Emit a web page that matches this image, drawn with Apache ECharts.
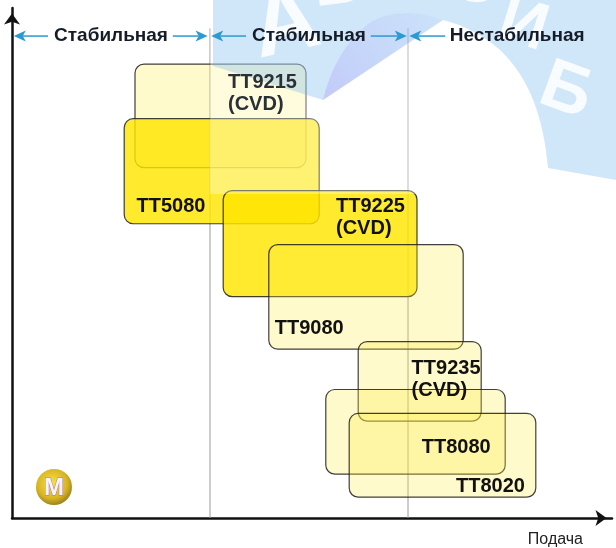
<!DOCTYPE html>
<html>
<head>
<meta charset="utf-8">
<style>
  html, body { margin: 0; padding: 0; background: #fff; }
  #chart { width: 616px; height: 548px; }
</style>
<script src="https://cdn.jsdelivr.net/npm/echarts@6/dist/echarts.min.js"></script>
</head>
<body>
<div id="chart"></div>
<script>
// grade areas: x = feed, y = wear resistance (relative units 0..100)
const grades   = ['TT9215\n(CVD)', 'TT5080', 'TT9225\n(CVD)', 'TT9080', 'TT9235\n(CVD)', 'TT8080', 'TT8020'];
const feedFrom = [20.5, 18.7, 35.2, 42.8, 57.7, 52.3, 56.2];
const feedTo   = [49.0, 51.2, 67.5, 75.2, 78.2, 82.2, 87.3];
const wearHigh = [89.0, 78.3, 64.2, 53.6, 34.6, 25.2, 20.5];
const wearLow  = [68.7, 57.7, 43.4, 33.1, 19.0, 8.6, 4.1];
const strong   = [false, true, true, false, false, false, false];
const labelX   = [36.0, 20.75, 54.0, 43.8, 66.6, 68.3, 74.0];
const labelY   = [87.6, 63.2, 63.2, 39.3, 31.5, 15.9, 8.4];

// zones along the feed axis
const zoneNames   = ['Стабильная', 'Стабильная', 'Нестабильная'];
const zoneLabelX  = [16.5, 49.5, 84.2];
const zoneBorders = [33, 66];
const arrowFrom   = [6.0, 26.8, 39.0, 59.8, 72.2];
const arrowTo     = [0.3, 32.6, 33.2, 65.8, 66.2];
const headerY     = 94.5;
const borderTop   = 96;

const FONT = '"Liberation Sans", Arial, Helvetica, sans-serif';

const chart = echarts.init(document.getElementById('chart'));

function renderGrade(params, api) {
  const tl = api.coord([api.value(0), api.value(2)]);
  const br = api.coord([api.value(1), api.value(3)]);
  return {
    type: 'rect',
    shape: { x: tl[0], y: tl[1], width: br[0] - tl[0], height: br[1] - tl[1], r: 9 },
    style: {
      fill: strong[params.dataIndex] ? 'rgba(255, 229, 0, 0.82)' : 'rgba(255, 236, 70, 0.28)',
      stroke: 'rgba(30, 30, 30, 0.85)',
      lineWidth: 1.2
    }
  };
}

function renderGradeLabel(params, api) {
  const p = api.coord([api.value(0), api.value(1)]);
  return {
    type: 'text',
    x: p[0],
    y: p[1],
    style: {
      text: grades[params.dataIndex],
      fill: params.dataIndex === 0 ? '#2a3038' : '#111',
      fontFamily: FONT,
      fontWeight: 'bold',
      fontSize: 20,
      lineHeight: 22,
      align: 'left',
      verticalAlign: 'top'
    }
  };
}

function renderBorder(params, api) {
  const a = api.coord([api.value(0), 0]);
  const b = api.coord([api.value(0), api.value(1)]);
  return {
    type: 'line',
    shape: { x1: a[0], y1: a[1], x2: b[0], y2: b[1] },
    style: { stroke: '#9a9a9a', lineWidth: 1 }
  };
}

function renderArrow(params, api) {
  const from = api.coord([api.value(0), api.value(2)]);
  const to = api.coord([api.value(1), api.value(2)]);
  const dir = to[0] > from[0] ? 1 : -1;
  const len = 12, half = 5.5, notch = 3;
  const tip = to[0], y = to[1];
  return {
    type: 'group',
    children: [
      {
        type: 'line',
        shape: { x1: from[0], y1: y, x2: tip - dir * (len - notch), y2: y },
        style: { stroke: '#2a9ad0', lineWidth: 1.5 }
      },
      {
        type: 'polygon',
        shape: { points: [[tip, y], [tip - dir * len, y - half], [tip - dir * (len - notch), y], [tip - dir * len, y + half]] },
        style: { fill: '#2a9ad0' }
      }
    ]
  };
}

function renderZoneName(params, api) {
  const p = api.coord([api.value(0), api.value(1)]);
  return {
    type: 'text',
    x: p[0],
    y: p[1],
    style: {
      text: zoneNames[params.dataIndex],
      fill: '#151c28',
      fontFamily: FONT,
      fontWeight: 'bold',
      fontSize: 19,
      align: 'center',
      verticalAlign: 'middle'
    }
  };
}

function wmLetter(ch, x, y, rot, size) {
  return {
    type: 'text', x: x, y: y, rotation: rot,
    style: { text: ch, fill: 'rgba(255,255,255,0.85)', fontFamily: FONT, fontWeight: 'bold', fontSize: size, align: 'center', verticalAlign: 'middle' }
  };
}

// watermark in the upper right (decoration, drawn over the areas)
function renderWatermark() {
  return {
    type: 'group',
    children: [
      { type: 'rect', shape: { x: 210, y: 0, width: 406, height: 194 }, style: { fill: 'rgba(255,255,255,0.33)' } },
      {
        type: 'path',
        shape: { pathData: 'M213,0 L616,0 L616,180 L548,168 C544,120 530,78 500,50 C482,34 462,25 443,20 L323,100 L213,66 Z' },
        style: { fill: 'rgba(100,175,240,0.3)' }
      },
      {
        type: 'path',
        shape: { pathData: 'M323,100 C330,70 345,42 368,24 C390,9 420,11 443,20 Z' },
        style: {
          fill: new echarts.graphic.LinearGradient(0, 1, 1, 0, [
            { offset: 0, color: 'rgba(150,110,245,0.24)' },
            { offset: 1, color: 'rgba(150,160,245,0.08)' }
          ])
        }
      },
      wmLetter('А', 286, 26, 0.22, 92),
      wmLetter('В', 338, -16, 0.12, 70),
      wmLetter('О', 476, -16, -0.1, 64),
      wmLetter('И', 523, 26, -0.3, 66),
      wmLetter('Б', 566, 92, -0.35, 70)
    ]
  };
}

// small "M" badge, bottom left
const badge = [
  {
    type: 'circle',
    z: 3,
    shape: { cx: 54, cy: 487, r: 18 },
    style: {
      fill: new echarts.graphic.RadialGradient(0.45, 0.4, 0.6, [
        { offset: 0, color: '#f7e34a' },
        { offset: 0.7, color: '#d9b422' },
        { offset: 1, color: '#9c8420' }
      ])
    }
  },
  {
    type: 'text',
    z: 4,
    x: 54,
    y: 488,
    style: {
      text: 'M',
      fill: '#fbf2ff',
      stroke: 'rgba(140,100,170,0.7)',
      lineWidth: 1,
      fontFamily: FONT,
      fontWeight: 'bold',
      fontSize: 24,
      align: 'center',
      verticalAlign: 'middle'
    }
  }
];

const option = {
  backgroundColor: '#fff',
  animation: false,
  grid: { left: 12, right: 4, top: 8, bottom: 28.5 },
  xAxis: {
    type: 'value',
    min: 0,
    max: 100,
    name: 'Подача',
    nameLocation: 'end',
    nameGap: -29,
    nameTextStyle: { fontFamily: FONT, fontSize: 16, color: '#222', align: 'right', verticalAlign: 'top', padding: [14, 0, 0, 0] },
    axisLine: { show: true, symbol: ['none', 'arrow'], symbolSize: [12, 11], symbolOffset: [0, -5.5], lineStyle: { color: '#111', width: 2.5 } },
    axisTick: { show: false },
    axisLabel: { show: false },
    splitLine: { show: false }
  },
  yAxis: {
    type: 'value',
    min: 0,
    max: 100,
    axisLine: { show: true, symbol: ['none', 'arrow'], symbolSize: [12, 11], symbolOffset: [0, -5.5], lineStyle: { color: '#111', width: 2.5 } },
    axisTick: { show: false },
    axisLabel: { show: false },
    splitLine: { show: false }
  },
  graphic: { elements: badge },
  series: [
    {
      type: 'custom',
      name: 'borders',
      z: 1,
      silent: true,
      renderItem: renderBorder,
      data: zoneBorders.map(x => [x, borderTop])
    },
    {
      type: 'custom',
      name: 'grades',
      z: 2,
      clip: false,
      renderItem: renderGrade,
      data: grades.map((g, i) => [feedFrom[i], feedTo[i], wearHigh[i], wearLow[i]])
    },
    {
      type: 'custom',
      name: 'watermark',
      z: 3,
      silent: true,
      renderItem: renderWatermark,
      data: [[0, 0]]
    },
    {
      type: 'custom',
      name: 'gradeLabels',
      z: 5,
      silent: true,
      renderItem: renderGradeLabel,
      data: grades.map((g, i) => [labelX[i], labelY[i]])
    },
    {
      type: 'custom',
      name: 'zoneArrows',
      z: 5,
      silent: true,
      renderItem: renderArrow,
      data: arrowFrom.map((f, i) => [f, arrowTo[i], headerY])
    },
    {
      type: 'custom',
      name: 'zoneNames',
      z: 5,
      silent: true,
      renderItem: renderZoneName,
      data: zoneLabelX.map(x => [x, headerY])
    }
  ]
};

chart.setOption(option);
</script>
</body>
</html>
